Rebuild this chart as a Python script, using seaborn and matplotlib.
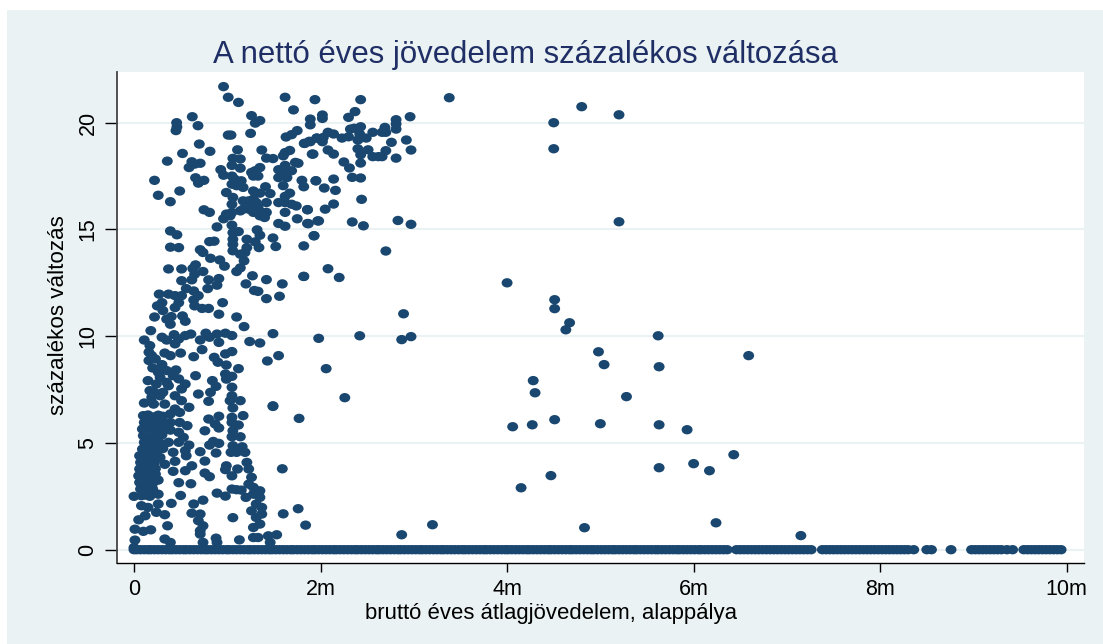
import matplotlib
matplotlib.use("Agg")
import matplotlib.pyplot as plt
from matplotlib.markers import MarkerStyle
from matplotlib.patches import Rectangle
from matplotlib.path import Path
from matplotlib.transforms import Affine2D
import numpy as np
import pandas as pd
import seaborn as sns

TITLE = "A nettó éves jövedelem százalékos változása"
XLABEL = "bruttó éves átlagjövedelem, alappálya"
YLABEL = "százalékos változás"
XTICKS = [0, 2, 4, 6, 8, 10]
XTICKLABELS = ["0", "2m", "4m", "6m", "8m", "10m"]
YTICKS = [0, 5, 10, 15, 20]

upper_pts = [
(0.96,21.69),(1.01,21.19),(1.12,20.95),(1.62,21.19),(1.94,21.08),(1.71,20.6),(0.625,20.28),(0.457,20.0),(0.46,19.8),(0.45,19.63),
(0.686,19.86),(1.26,20.33),(1.35,20.1),(1.30,19.98),(1.89,20.17),(1.89,19.9),(1.04,19.42),(1.01,19.42),(1.25,19.5),(1.75,19.63),
(1.69,19.44),(1.63,19.33),(1.825,19.03),(1.88,19.13),(1.96,19.28),(0.70,19.0),(0.815,18.66),(0.52,18.56),(0.357,18.2),(1.11,18.73),
(1.37,18.72),(1.42,18.34),(1.49,18.32),(1.62,18.6),(1.67,18.7),(1.6,18.45),(1.91,18.53),(1.73,18.14),(1.76,18.1),(0.62,18.17),
(0.71,18.1),(0.65,18.06),(0.59,17.9),(1.06,18.33),(1.14,18.3),(1.05,18.0),(1.14,17.87),(0.93,17.8),(0.96,17.54),(0.22,17.3),
(0.66,17.42),(0.75,17.3),(0.69,17.17),(0.26,16.6),(0.49,16.8),(0.39,16.3),(1.26,17.67),(1.3,17.75),(1.35,17.9),(1.33,17.5),
(1.28,17.5),(1.55,17.8),(1.62,18.0),(1.69,17.75),(1.62,17.6),(1.55,17.43),(1.64,17.43),(1.6,17.05),(1.8,17.3),(1.82,17.0),
(1.95,17.28),(1.05,17.5),(1.08,17.35),(1.05,17.12),(1.15,17.28),(1.1,17.05),(1.17,16.97),(0.99,16.73),(1.41,17.0),(1.28,16.8),
(1.35,16.7),(1.46,16.68),(1.67,16.7),(1.62,16.55),(1.55,16.26),(1.62,16.26),(1.69,16.18),(1.74,16.1),(1.06,16.5),(1.05,16.18),
(1.17,16.34),(1.23,16.34),(1.28,16.42),(1.31,16.26),(1.42,16.26),(1.26,16.1),(1.17,15.95),(1.14,15.87),(1.23,15.95),(1.33,16.03),
(1.28,15.8),(1.37,15.8),(1.4,15.56),(1.42,15.8),(1.35,15.64),(1.05,15.8),(0.99,15.72),(0.96,15.5),(1.03,15.64),(0.75,15.92),
(0.81,15.8),(1.86,15.93),(1.62,15.8),(1.75,15.5),(1.86,15.28),(1.97,15.4),(1.55,15.28),(1.62,15.15),(0.89,15.12),(1.05,15.2),
(1.06,14.85),(1.12,14.9),(1.06,14.54),(1.06,14.3),(1.06,14.0),(1.32,14.98),(1.35,14.73),(1.21,14.54),(1.3,14.42),(1.21,14.15),
(1.34,14.15),(1.19,13.92),(1.14,13.84),(1.18,13.53),(1.14,13.2),(1.1,13.03),(1.49,14.6),(1.52,14.2),(1.82,14.23),(1.93,14.7),
(0.39,14.93),(0.46,14.75),(0.39,14.17),(0.48,14.15),(0.81,14.43),(0.86,14.45),(0.71,14.05),(0.74,13.92),(0.82,13.65),(0.92,13.57),
(0.97,13.28),(0.37,13.15),(0.51,13.15),(0.66,13.34),(0.63,13.17),(0.74,13.03),(0.65,12.9),(0.62,12.64),(0.51,12.6),(0.8,12.64),
(0.91,12.7),(0.89,12.39),(0.79,12.23),(0.56,12.23),(0.64,12.12),(1.27,12.83),(1.2,12.45),(1.42,12.65),(1.59,12.45),(1.82,12.8),
(1.29,12.14),(1.33,12.1),(1.42,11.76),(1.56,11.87),(0.27,11.97),(0.37,11.97),(0.44,11.9),(0.51,11.9),(0.3,11.57),(0.25,11.42),
(0.31,11.2),(0.48,11.57),(0.44,11.34),(0.69,11.9),(0.64,11.7),(0.65,11.42),(0.73,11.3),(0.8,11.3),(0.95,11.57),(0.91,11.03),
(1.1,10.9),(0.22,10.9),(0.35,10.8),(0.4,10.92),(0.52,10.95),(0.55,10.7),(0.39,10.56),
(2.43,21.08),(3.38,21.17),(2.37,20.52),(2.3,20.25),(2.02,20.36),(2.02,20.2),(2.96,20.28),(2.81,20.14),(2.81,19.94),(2.81,19.7),
(2.69,19.78),(2.7,19.55),(2.66,19.55),(2.32,19.7),(2.36,19.74),(2.43,19.81),(2.56,19.55),(2.42,19.47),(2.49,19.28),(2.4,19.19),
(2.44,19.3),(2.08,19.55),(2.14,19.47),(2.03,19.31),(1.96,19.28),(2.02,19.11),(1.89,19.11),(1.83,19.03),(2.3,19.34),(2.23,19.28),
(2.76,19.08),(2.92,19.19),(2.97,18.72),(2.81,18.34),(1.92,18.53),(2.08,18.72),(2.14,18.53),(2.4,18.78),(2.51,18.73),(2.43,18.5),
(2.56,18.41),(2.62,18.41),(2.66,18.41),(2.7,18.69),(2.25,18.16),(2.31,17.88),(2.43,18.11),(2.34,17.44),(2.43,17.41),(2.14,17.36),
(1.95,17.28),(2.04,16.94),(2.16,16.83),(2.44,16.41),(2.14,16.19),(2.05,15.95),(1.86,15.92),(2.34,15.35),(2.46,15.17),(2.83,15.42),
(2.97,15.24),(1.98,15.4),(1.87,15.27),(1.93,14.71),(2.7,13.99),(2.08,13.16),(2.2,12.75),(1.82,12.8),
]

lower_pts = [
(1.18,10.45),(1.49,10.12),(1.98,9.9),(0.18,10.26),(0.11,9.82),(0.17,9.56),(0.3,9.95),(0.35,9.82),(0.43,10.07),(0.48,9.87),
(0.55,10.03),(0.61,10.1),(0.44,9.64),(0.71,9.82),(0.77,10.14),(0.81,9.95),(0.89,10.1),(0.98,10.14),(1.05,10.03),(0.91,9.71),
(1.24,9.75),(1.35,9.68),(0.73,9.37),(0.64,9.04),(0.5,9.21),(0.33,9.21),(0.39,9.09),(0.16,9.25),(0.19,9.09),(0.16,8.86),
(0.23,8.93),(1.55,9.09),(1.43,8.84),(1.05,9.28),(0.98,9.17),(0.86,9.01),(0.9,8.78),(0.99,8.65),(1.12,8.48),(0.2,8.51),
(0.3,8.67),(0.26,8.31),(0.35,8.39),(0.45,8.42),(0.42,8.15),(0.28,8.07),(0.15,7.92),(0.24,7.76),(0.35,7.84),(0.48,8.0),
(0.55,7.76),(0.51,7.53),(0.37,7.68),(0.66,8.15),(0.98,8.23),(1.05,8.12),(0.99,7.99),(0.84,7.92),(0.88,7.65),(0.82,7.37),
(0.69,7.29),(0.8,6.95),(1.05,7.61),(1.05,7.21),(1.03,6.98),(1.14,6.98),(1.06,6.64),(1.17,6.28),(1.05,6.2),(1.05,5.96),
(1.12,5.84),(1.06,5.57),(1.05,5.29),(1.14,5.29),(1.49,6.71),(1.77,6.15),(0.17,7.45),(0.22,7.37),(0.31,7.37),(0.19,7.14),
(0.28,7.21),(0.11,6.87),(0.21,6.82),(0.33,6.82),(0.44,7.21),(0.51,6.98),(0.59,6.67),(0.44,6.59),(0.39,6.36),(0.49,6.43),
(0.10,6.28),(0.15,6.31),(0.21,6.22),(0.26,6.3),(0.31,6.25),(0.11,5.96),(0.16,5.99),(0.2,5.93),(0.27,5.97),(0.32,5.9),
(0.09,5.65),(0.15,5.7),(0.22,5.62),(0.25,5.66),(0.31,5.6),(0.1,5.34),(0.14,5.3),(0.21,5.36),(0.26,5.31),(0.3,5.38),
(0.11,5.03),(0.16,5.06),(0.2,5.0),(0.27,5.03),(0.09,4.71),(0.15,4.75),(0.21,4.68),(0.26,4.72),(0.31,4.74),
(0.39,5.96),(0.39,5.6),(0.49,5.96),(0.57,5.81),(0.48,5.5),(0.53,5.26),(0.37,5.03),(0.48,5.03),(0.59,4.9),(0.42,4.56),
(0.55,4.64),(0.56,4.4),(0.71,4.59),(0.76,5.57),(0.8,6.12),(0.91,6.25),(0.87,5.89),(0.91,5.7),(0.81,4.9),(0.85,5.07),
(0.91,4.98),(0.88,4.53),(0.76,4.15),(1.06,4.87),(1.04,4.56),(1.1,4.56),(1.16,4.82),(1.19,4.56),(1.21,4.09),(1.23,3.78),
(0.99,3.93),(0.98,3.75),(1.11,3.78),(1.05,3.46),(1.59,3.79),(1.26,3.39),(1.23,3.07),(1.28,2.92),(1.35,2.76),(1.05,2.84),
(1.1,2.81),(1.15,2.79),(1.2,2.45),(1.28,2.6),(1.35,2.45),(1.31,2.14),(1.37,1.98),(1.26,1.82),(1.37,1.67),(1.31,1.51),
(1.35,1.2),(1.28,1.04),(0.89,2.65),(0.98,2.51),(0.76,3.59),(0.81,3.42),(0.48,3.14),(0.61,3.09),(0.5,2.54),(0.4,2.17),
(0.62,3.93),(0.55,3.7),(0.42,3.67),(0.44,4.14),(0.33,4.0),(0.28,4.32),(0.23,3.54),(0.26,3.26),(0.26,2.6),(0.26,2.14),
(0.24,1.75),(0.33,1.64),(0.36,1.12),
(0.06,4.4),(0.12,4.43),(0.17,4.38),(0.23,4.41),(0.07,4.09),(0.12,4.12),(0.16,4.06),(0.22,4.1),(0.06,3.78),(0.11,3.8),
(0.17,3.75),(0.23,3.79),(0.05,3.46),(0.12,3.49),(0.18,3.44),(0.22,3.47),(0.06,3.15),(0.13,3.18),(0.17,3.12),(0.21,3.16),
(0.07,2.84),(0.12,2.87),(0.16,2.81),(0.2,2.85),(0.08,2.53),(0.12,2.56),(0.17,2.5),(0.0,2.5),
(0.08,2.06),(0.15,1.98),(0.12,1.59),(0.05,1.4),(0.01,0.96),(0.1,0.86),(0.18,0.93),(0.01,0.45),(0.0,0.1),(0.33,0.5),
(0.39,0.34),(0.64,2.14),(0.74,2.32),(0.62,1.71),(0.71,1.67),(0.69,1.36),(0.74,1.12),(0.71,0.89),(0.71,0.73),(0.74,0.34),
(0.88,0.54),(0.89,0.34),(1.13,0.46),(1.06,1.5),(1.6,1.68),(1.76,1.92),(1.84,1.15),(1.28,0.57),(1.33,0.57),(1.44,0.65),
(1.53,0.7),(1.46,0.34),
(2.89,11.05),(2.42,10.02),(2.87,9.84),(2.97,9.98),(2.06,8.48),(2.26,7.12),(1.49,6.74),
(2.87,0.7),(3.2,1.17),
]

far_pts = [
(4.5,20.0),(4.5,18.78),(4.8,20.75),(5.2,20.37),(5.2,15.36),(4.0,12.5),(4.51,11.71),(4.51,11.29),(4.67,10.63),(4.63,10.3),
(5.62,10.02),(4.98,9.27),(5.04,8.67),(5.63,8.57),(6.59,9.09),(4.28,7.92),(4.3,7.35),(5.28,7.17),(4.06,5.76),(4.27,5.85),
(4.51,6.09),(5.0,5.9),(5.63,5.85),(5.93,5.62),(4.15,2.9),(4.47,3.47),(5.63,3.84),(6.0,4.03),(6.17,3.7),(6.43,4.45),
(4.83,1.03),(6.24,1.26),(7.15,0.66),
]

zero_x = [
0.0,0.07,0.15,0.22,0.3,0.38,0.45,0.53,0.6,0.68,0.76,0.83,0.91,0.99,1.06,1.14,1.22,1.29,1.37,1.45,
1.52,1.6,1.68,1.75,1.83,1.91,1.98,2.06,2.14,2.21,2.29,2.37,2.44,2.52,2.6,2.67,2.75,2.83,2.9,2.98,
3.06,3.13,3.21,3.29,3.36,3.44,3.52,3.59,3.67,3.75,3.82,3.9,3.98,4.05,4.13,4.21,4.28,4.36,4.44,4.51,
4.59,4.67,4.74,4.82,4.9,4.97,5.05,5.13,5.2,5.28,5.36,5.43,5.51,5.59,5.66,5.74,5.82,5.89,5.97,6.05,
6.12,6.2,6.28,6.36,6.46,6.54,6.62,6.7,6.78,6.86,6.94,7.02,7.1,7.18,7.26,
7.38,7.46,7.54,7.62,7.7,7.78,7.86,7.94,8.02,8.1,8.18,8.26,8.36,8.5,8.55,8.76,
8.98,9.06,9.14,9.22,9.3,9.42,9.54,9.62,9.7,9.78,9.86,9.94,
0.03,0.11,0.18,0.26,0.34,0.41,0.49,0.56,0.64,0.72,0.79,0.87,0.95,1.02,1.1,1.18,1.25,1.33,1.41,1.48,
1.56,1.64,1.71,1.79,1.87,1.94,2.02,2.1,2.17,2.25,2.33,2.4,2.48,2.56,2.63,2.71,2.79,2.86,2.94,3.02,
3.09,3.17,3.25,3.32,3.4,3.48,3.55,3.63,3.71,3.78,3.86,3.94,4.01,4.09,4.17,4.24,4.32,4.4,4.47,4.55,
4.63,4.7,4.78,4.86,4.93,5.01,5.09,5.16,5.24,5.32,5.39,5.47,5.55,5.62,5.7,5.78,5.85,5.93,6.01,6.08,
6.16,6.24,6.32,6.5,6.58,6.66,6.74,6.82,6.9,6.98,7.06,7.14,7.22,7.42,7.5,7.58,7.66,7.74,7.82,7.9,
7.98,8.06,8.14,8.22,8.3,9.02,9.1,9.18,9.26,9.36,9.58,9.66,9.74,9.82,9.9,
]

x_vals = [p[0] for p in upper_pts + lower_pts + far_pts] + zero_x
y_vals = [p[1] for p in upper_pts + lower_pts + far_pts] + [0.0] * len(zero_x)
df = pd.DataFrame({"x": x_vals, "y": y_vals})

W, H = 1103, 644
BG = "#EAF2F3"
NAVY = "#1A476F"
L, R, T, B = 117, 1084, 72, 563

sns.set_theme(style="white")
plt.rcParams["font.family"] = ["Liberation Sans", "DejaVu Sans"]

fig = plt.figure(figsize=(W / 100, H / 100), dpi=100, facecolor="white")
fig.add_artist(Rectangle((7 / W, 0), (W - 7) / W, (H - 10) / H, transform=fig.transFigure,
                         facecolor=BG, edgecolor="none", zorder=-5))
ax = fig.add_axes([L / W, 1 - B / H, (R - L) / W, (B - T) / H], facecolor="white")

ell = Path.unit_circle().transformed(Affine2D().scale(1.17, 1.0))
sns.scatterplot(data=df, x="x", y="y", ax=ax, marker=MarkerStyle(ell), s=62,
                color=NAVY, edgecolor="none", linewidth=0, legend=False, zorder=3, clip_on=False)

ax.set_xlim((L - 134) / 93.27, (R - 134) / 93.27)
ax.set_ylim((549.7 - B) / 21.35, (549.7 - T) / 21.35)
ax.set_xticks(XTICKS, XTICKLABELS)
ax.set_yticks(YTICKS)
ax.tick_params(axis="x", length=6.7, width=1, color="black", labelsize=15.5, labelcolor="black", bottom=True, pad=5)
ax.tick_params(axis="y", length=8.4, width=1, color="black", labelsize=15.5, labelcolor="black", left=True, pad=5)
for lab in ax.get_yticklabels():
    lab.set_rotation(90)
    lab.set_va("center")
ax.grid(axis="y", color=BG, linewidth=1.5, zorder=0)
ax.grid(axis="x", visible=False)
ax.set_axisbelow(True)
for s in ("top", "right"):
    ax.spines[s].set_visible(False)
ax.spines["left"].set_color("#444444")
ax.spines["left"].set_linewidth(1.3)
ax.spines["bottom"].set_color("black")
ax.spines["bottom"].set_linewidth(1)

ax.set_xlabel(XLABEL, fontsize=15.9, color="black")
ax.xaxis.set_label_coords((551 - L) / (R - L), -(613 - B) / (B - T), transform=ax.transAxes)
ax.xaxis.label.set_va("center")
ax.set_ylabel(YLABEL, fontsize=16.1, color="black")
ax.yaxis.set_label_coords(-(117 - 59) / (R - L), (B - 315) / (B - T), transform=ax.transAxes)
ax.yaxis.label.set_va("center")
ax.set_title(TITLE, fontsize=22.4, color="#1F2F66", x=(525 - L) / (R - L), y=(B - 63) / (B - T), va="baseline", pad=0)

fig.savefig("out.png", dpi=100, facecolor="white")
